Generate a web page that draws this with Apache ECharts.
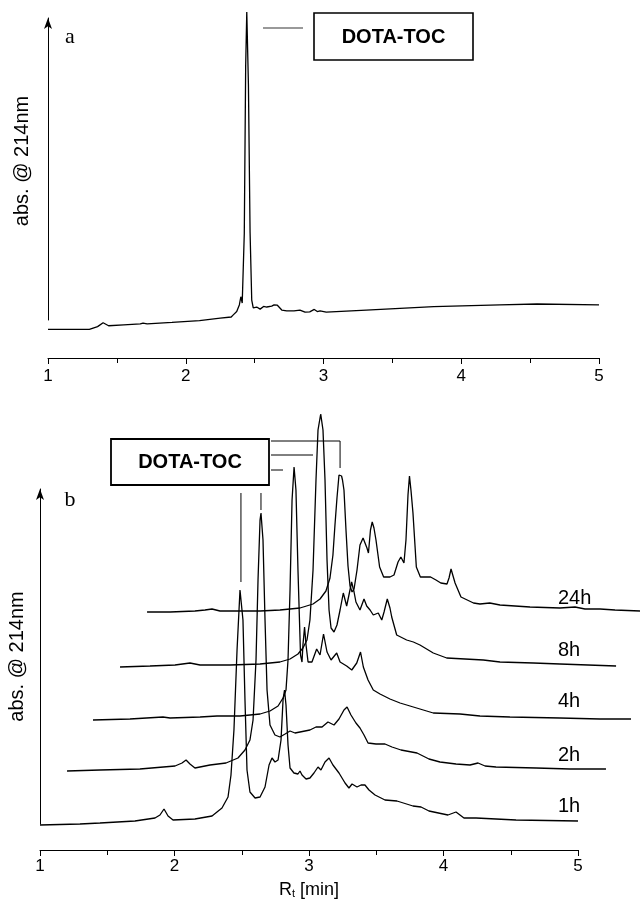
<!DOCTYPE html>
<html><head><meta charset="utf-8">
<script src="https://cdn.jsdelivr.net/npm/echarts@6.0.0/dist/echarts.min.js"></script>
<style>html,body{margin:0;padding:0;background:#fff}#c{width:640px;height:903px}</style>
</head><body><div id="c"></div>
<script>
// x-axis ticks (retention time, min)
const xTicks = [1, 2, 3, 4, 5];

// Panel a: DOTA-TOC reference chromatogram [Rt(min), abs (a.u.)]
const traceA = [[1.00,-3.1],[1.30,-3.1],[1.36,-2.2],[1.40,-0.9],[1.44,-1.9],[1.55,-1.6],[1.67,-1.3],[1.69,-1.0],[1.72,-1.3],[1.90,-0.8],[2.10,-0.2],[2.25,0.6],[2.33,1.0],[2.345,1.7],[2.37,2.8],[2.389,5.0],[2.40,7.7],[2.41,5.6],[2.425,28.7],[2.435,84],[2.443,102],[2.455,78],[2.467,29],[2.479,6.6],[2.49,4.0],[2.515,4.3],[2.54,3.6],[2.565,4.5],[2.588,4.3],[2.624,4.6],[2.641,5.0],[2.665,4.9],[2.697,3.3],[2.733,3.0],[2.786,3.0],[2.829,3.3],[2.866,2.6],[2.90,2.7],[2.933,3.5],[2.955,2.8],[2.975,3.0],[3.02,2.6],[3.31,3.3],[3.80,4.4],[4.28,5.0],[4.55,5.3],[5.0,5.0]];

// Panel b: chromatograms after 1h, 2h, 4h, 8h, 24h [Rt(min), abs (a.u.)]
const trace1h = [[1.000,-1],[1.297,0],[1.446,1],[1.706,3],[1.855,6],[1.892,9],[1.922,15],[1.952,8],[1.989,4],[2.152,5],[2.279,8],[2.353,16],[2.398,27],[2.420,49],[2.442,94],[2.465,174],[2.487,234],[2.494,236],[2.509,204],[2.524,124],[2.539,54],[2.561,32],[2.599,26],[2.636,27],[2.673,37],[2.703,59],[2.725,66],[2.747,62],[2.770,64],[2.792,84],[2.807,124],[2.818,134],[2.829,119],[2.844,79],[2.859,56],[2.888,51],[2.918,50],[2.933,53],[2.948,49],[2.978,45],[3.007,46],[3.037,51],[3.067,57],[3.089,54],[3.119,62],[3.149,66],[3.178,59],[3.223,51],[3.268,41],[3.297,36],[3.320,40],[3.357,37],[3.387,39],[3.416,39],[3.446,34],[3.491,29],[3.565,24],[3.654,23],[3.773,18],[3.833,17],[3.892,13],[4.033,9],[4.093,12],[4.152,6],[4.242,6],[4.539,4],[5.000,3]];
const trace2h = [[1.001,0],[1.246,1],[1.543,2],[1.804,5],[1.856,8],[1.886,11],[1.915,7],[1.952,3],[2.064,6],[2.183,8],[2.272,13],[2.324,21],[2.361,31],[2.384,51],[2.406,111],[2.421,191],[2.436,251],[2.443,258],[2.458,231],[2.473,151],[2.488,81],[2.510,46],[2.547,36],[2.584,34],[2.622,37],[2.659,40],[2.696,38],[2.733,39],[2.770,40],[2.807,41],[2.852,44],[2.897,44],[2.941,49],[2.986,46],[3.023,52],[3.060,61],[3.083,64],[3.112,56],[3.149,48],[3.179,43],[3.209,36],[3.239,28],[3.298,27],[3.365,27],[3.417,24],[3.484,21],[3.603,18],[3.692,12],[3.774,9],[3.893,7],[3.997,6],[4.057,8],[4.109,5],[4.190,4],[4.488,3],[4.741,2],[5.008,2]];
const trace4h = [[0.994,0],[1.269,1],[1.514,3],[1.567,2],[1.790,3],[1.916,4],[2.087,4],[2.236,6],[2.310,9],[2.370,14],[2.407,22],[2.429,30],[2.444,60],[2.459,130],[2.474,220],[2.489,253],[2.503,230],[2.518,150],[2.537,65],[2.548,58],[2.555,75],[2.567,93],[2.578,75],[2.593,58],[2.622,58],[2.657,71],[2.682,65],[2.708,86],[2.734,68],[2.764,60],[2.806,67],[2.831,58],[2.880,54],[2.918,50],[2.955,57],[2.983,68],[3.004,53],[3.039,40],[3.078,30],[3.128,26],[3.202,21],[3.277,17],[3.425,11],[3.524,7],[3.723,6],[3.871,4],[4.094,3],[4.466,2],[4.764,1],[4.994,1]];
const trace8h = [[0.995,-2],[1.218,-1],[1.404,0],[1.515,2],[1.590,0],[1.813,0],[2.036,1],[2.184,3],[2.259,6],[2.318,11],[2.355,17],[2.385,25],[2.407,45],[2.430,95],[2.452,185],[2.467,235],[2.487,251],[2.504,235],[2.519,185],[2.534,105],[2.549,55],[2.564,37],[2.586,33],[2.608,40],[2.631,55],[2.655,72],[2.680,59],[2.697,70],[2.717,83],[2.735,73],[2.749,63],[2.779,55],[2.809,66],[2.829,59],[2.854,55],[2.878,50],[2.915,52],[2.941,45],[2.958,53],[2.982,66],[3.002,57],[3.015,48],[3.052,30],[3.126,25],[3.176,23],[3.225,20],[3.324,12],[3.424,7],[3.696,5],[3.820,3],[4.068,2],[4.266,1],[4.683,-1]];
const trace24h = [[0.996,-1],[1.167,-1],[1.352,0],[1.427,1],[1.479,2],[1.538,0],[1.687,0],[1.836,0],[1.984,1],[2.133,3],[2.230,7],[2.282,12],[2.326,20],[2.356,33],[2.378,56],[2.393,86],[2.408,113],[2.423,136],[2.431,138],[2.442,135],[2.449,131],[2.460,121],[2.475,81],[2.490,45],[2.505,25],[2.520,19],[2.535,22],[2.557,41],[2.579,66],[2.602,73],[2.616,74],[2.631,63],[2.642,58],[2.657,81],[2.670,89],[2.683,83],[2.698,71],[2.725,44],[2.755,34],[2.802,34],[2.832,36],[2.862,49],[2.883,54],[2.906,48],[2.921,71],[2.936,116],[2.947,135],[2.958,121],[2.973,98],[2.998,44],[3.028,34],[3.104,34],[3.144,31],[3.180,28],[3.226,27],[3.241,33],[3.256,42],[3.271,35],[3.286,28],[3.330,14],[3.423,8],[3.471,7],[3.544,8],[3.620,6],[3.843,4],[4.066,3],[4.178,4],[4.252,2],[4.364,2],[4.475,1],[4.661,0]];

const timeLabels = ['1h', '2h', '4h', '8h', '24h'];
const traces = [trace1h, trace2h, trace4h, trace8h, trace24h];
// waterfall offsets (display only)
const xShift = [0, 0.2, 0.4, 0.6, 0.8];
const yShift = [0, 53, 104, 159, 213];

const SANS = '"Liberation Sans", Arial, Helvetica, sans-serif';
const SERIF = '"Liberation Serif", "Times New Roman", serif';

const chart = echarts.init(document.getElementById('c'), null, {renderer: 'canvas'});

// panel b geometry: visible axis spans px 40..578 for 1..5 min;
// the traces' own (hidden) axis uses the same scale but runs to the right edge.
const B_LEFT = 40, B_AXIS_RIGHT = 578, W = 640;
const pxPerMin = (B_AXIS_RIGHT - B_LEFT) / (xTicks[4] - xTicks[0]);
const wideMax = xTicks[0] + (W - B_LEFT) / pxPerMin;

function xAxisCfg(gi, offset, margin) {
  return {
    type: 'value', gridIndex: gi, min: xTicks[0], max: xTicks[xTicks.length - 1], interval: 1,
    position: 'bottom', offset: offset,
    axisLine: {show: true, onZero: false, lineStyle: {color: '#000', width: 1}},
    axisTick: {show: true, length: 6, lineStyle: {color: '#000'}},
    minorTick: {show: true, splitNumber: 2, length: 5, lineStyle: {color: '#000'}},
    splitLine: {show: false},
    axisLabel: {color: '#000', fontSize: 17, fontFamily: SANS, margin: margin,
      formatter: v => xTicks.includes(v) ? String(v) : ''}
  };
}
function yAxisCfg(gi, max, gap, pad) {
  return {
    type: 'value', gridIndex: gi, min: 0, max: max,
    name: 'abs. @ 214nm', nameLocation: 'middle', nameRotate: 90, nameGap: gap,
    nameTextStyle: {color: '#000', fontSize: 20, fontFamily: SANS, padding: pad},
    axisLine: {show: true, symbol: ['none', 'arrow'], symbolSize: [6, 11], lineStyle: {color: '#000', width: 1}},
    axisTick: {show: false}, axisLabel: {show: false}, splitLine: {show: false}
  };
}

const series = [{
  type: 'line', xAxisIndex: 0, yAxisIndex: 0, data: traceA, showSymbol: false, clip: false,
  lineStyle: {color: '#000', width: 1.3}, animation: false, silent: true
}];
traces.forEach((t, i) => {
  series.push({
    type: 'line', name: timeLabels[i], xAxisIndex: 2, yAxisIndex: 2, showSymbol: false, clip: false,
    data: t.map(p => [p[0] + xShift[i], p[1] + yShift[i]]),
    lineStyle: {color: '#000', width: 1.3}, animation: false, silent: true
  });
});

const xb = xAxisCfg(1, 26, 8);
xb.name = '{n|R}{s|t}{n| [min]}';
xb.nameLocation = 'middle';
xb.nameGap = 29;
xb.nameTextStyle = {rich: {
  n: {fontSize: 18, fontFamily: SANS, color: '#000', verticalAlign: 'bottom', lineHeight: 20},
  s: {fontSize: 11, fontFamily: SANS, color: '#000', verticalAlign: 'bottom', lineHeight: 14}
}};

const gridBase = {containLabel: false, outerBoundsMode: 'none'};
chart.setOption({
  backgroundColor: '#fff',
  animation: false,
  grid: [
    Object.assign({left: 48, right: 41, top: 18, height: 302}, gridBase),
    Object.assign({left: B_LEFT, right: W - B_AXIS_RIGHT, top: 489, height: 335}, gridBase),
    Object.assign({left: B_LEFT, right: 0, top: 489, height: 335}, gridBase)
  ],
  xAxis: [xAxisCfg(0, 38, 10), xb,
    {type: 'value', gridIndex: 2, min: xTicks[0], max: wideMax, show: false}],
  yAxis: [yAxisCfg(0, 100, 16, [0, 0, 0, 16]), yAxisCfg(1, 335, 13, 0),
    {type: 'value', gridIndex: 2, min: 0, max: 335, show: false}],
  series: series
});

// annotations
const fb = {xAxisIndex: 2, yAxisIndex: 2};
const px = (i, r) => chart.convertToPixel(fb, [r + xShift[i], 0])[0];
const x1 = px(0, 2.494), x2 = px(1, 2.443), x24 = px(4, 2.431);
const line = (pts, color, w) => ({type: 'polyline', shape: {points: pts}, style: {stroke: color || '#000', lineWidth: w || 1, fill: null}, silent: true});
const elements = [
  {type: 'text', style: {text: 'a', x: 70, y: 37, font: '22px ' + SERIF, fill: '#000', textAlign: 'center', textVerticalAlign: 'middle'}},
  {type: 'text', style: {text: 'b', x: 70, y: 500, font: '22px ' + SERIF, fill: '#000', textAlign: 'center', textVerticalAlign: 'middle'}},
  {type: 'rect', shape: {x: 314, y: 13, width: 159, height: 47}, style: {stroke: '#000', lineWidth: 1.6, fill: '#fff'}},
  {type: 'text', style: {text: 'DOTA-TOC', x: 393.5, y: 37, font: 'bold 20px ' + SANS, fill: '#000', textAlign: 'center', textVerticalAlign: 'middle'}},
  line([[263, 28], [303, 28]], '#777', 1.4),
  {type: 'rect', shape: {x: 111, y: 439, width: 158, height: 46}, style: {stroke: '#000', lineWidth: 1.8, fill: '#fff'}},
  {type: 'text', style: {text: 'DOTA-TOC', x: 190, y: 462, font: 'bold 20px ' + SANS, fill: '#000', textAlign: 'center', textVerticalAlign: 'middle'}},
  line([[271, 441], [x24, 441], [x24, 468]]),
  line([[271, 455], [313, 455]]),
  line([[271, 470], [283, 470]]),
  line([[x1, 493], [x1, 582]]),
  line([[x2, 493], [x2, 510]])
];
const labelY = [806, 755, 701, 650, 598];
timeLabels.forEach((t, i) => {
  elements.push({type: 'text', style: {text: t, x: 558, y: labelY[i], font: '20px ' + SANS, fill: '#000', textAlign: 'left', textVerticalAlign: 'middle'}});
});
chart.setOption({graphic: {elements: elements}});
</script>
</body></html>
